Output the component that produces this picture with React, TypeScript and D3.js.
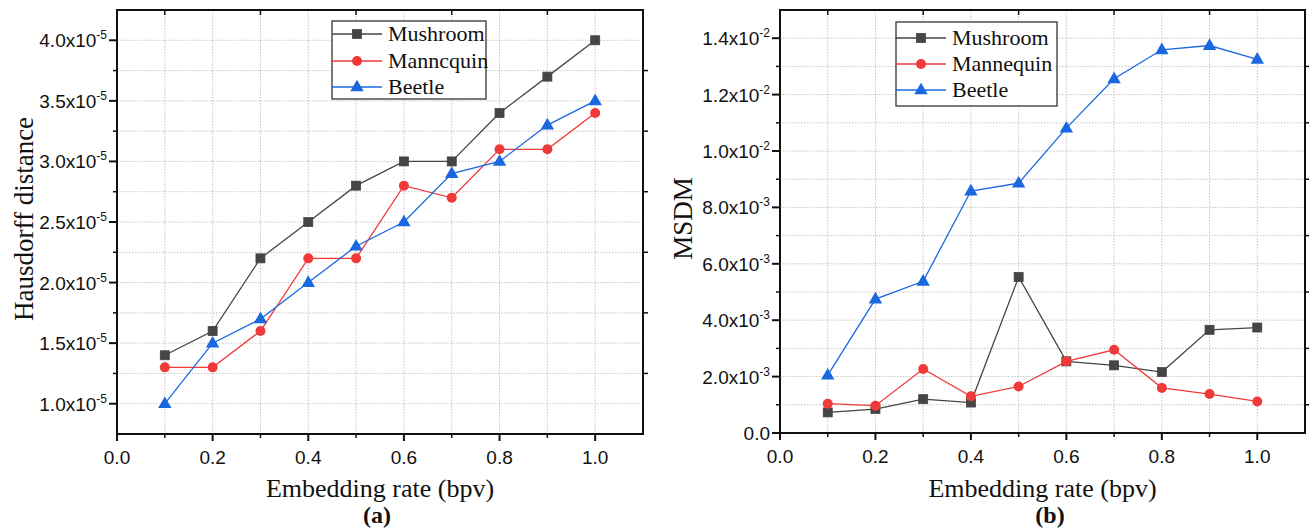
import React from "react";
import * as d3 from "d3";

const rates = [0.1, 0.2, 0.3, 0.4, 0.5, 0.6, 0.7, 0.8, 0.9, 1.0];
const xTicks = [0, 0.2, 0.4, 0.6, 0.8, 1.0];
const xTickLabels = ["0.0", "0.2", "0.4", "0.6", "0.8", "1.0"];

// Panel (a): Hausdorff distance
const hausMushroom = [1.4e-5, 1.6e-5, 2.2e-5, 2.5e-5, 2.8e-5, 3.0e-5, 3.0e-5, 3.4e-5, 3.7e-5, 4.0e-5];
const hausMannequin = [1.3e-5, 1.3e-5, 1.6e-5, 2.2e-5, 2.2e-5, 2.8e-5, 2.7e-5, 3.1e-5, 3.1e-5, 3.4e-5];
const hausBeetle = [1.0e-5, 1.5e-5, 1.7e-5, 2.0e-5, 2.3e-5, 2.5e-5, 2.9e-5, 3.0e-5, 3.3e-5, 3.5e-5];
const hausYTicks = [1.0e-5, 1.5e-5, 2.0e-5, 2.5e-5, 3.0e-5, 3.5e-5, 4.0e-5];
const hausYLabels = [["1.0x10", "-5"], ["1.5x10", "-5"], ["2.0x10", "-5"], ["2.5x10", "-5"], ["3.0x10", "-5"], ["3.5x10", "-5"], ["4.0x10", "-5"]];
const hausLegend = ["Mushroom", "Manncquin", "Beetle"];

// Panel (b): MSDM
const msdmMushroom = [0.73e-3, 0.85e-3, 1.2e-3, 1.08e-3, 5.53e-3, 2.54e-3, 2.4e-3, 2.16e-3, 3.66e-3, 3.74e-3];
const msdmMannequin = [1.04e-3, 0.97e-3, 2.27e-3, 1.3e-3, 1.65e-3, 2.54e-3, 2.95e-3, 1.6e-3, 1.38e-3, 1.12e-3];
const msdmBeetle = [2.05e-3, 4.75e-3, 5.38e-3, 8.58e-3, 8.86e-3, 10.81e-3, 12.56e-3, 13.59e-3, 13.74e-3, 13.25e-3];
const msdmYTicks = [0, 2e-3, 4e-3, 6e-3, 8e-3, 10e-3, 12e-3, 14e-3];
const msdmYLabels = [["0.0", ""], ["2.0x10", "-3"], ["4.0x10", "-3"], ["6.0x10", "-3"], ["8.0x10", "-3"], ["1.0x10", "-2"], ["1.2x10", "-2"], ["1.4x10", "-2"]];
const msdmLegend = ["Mushroom", "Mannequin", "Beetle"];

const COLORS = { mush: "#454545", manne: "#f03a3a", beetle: "#1a68e0" };
const SERIF = "'Liberation Serif', 'Times New Roman', serif";
const SANS = "'Liberation Sans', Arial, sans-serif";

type PanelProps = {
  box: { x0: number; x1: number; y0: number; y1: number };
  yDomain: [number, number];
  yTicks: number[];
  yLabels: string[][];
  yMinorStep: number;
  series: number[][];
  legend: string[];
  legendBox: { x: number; y: number; w: number; h: number; rowY: number[] };
  yTitle: string;
  yTitleX: number;
  panelLabel: string;
  panelLabelX: number;
};

function Marker({ kind, x, y, color }: { kind: number; x: number; y: number; color: string }) {
  if (kind === 0) {
    return <rect x={x - 4.5} y={y - 4.5} width={9} height={9} fill={color} stroke={color} strokeWidth={0.8} />;
  }
  if (kind === 1) {
    return <circle cx={x} cy={y} r={5} fill={color} />;
  }
  const p = d3.symbol().type(d3.symbolTriangle).size(78)();
  return <path d={p || ""} transform={`translate(${x},${y + 0.5})`} fill={color} />;
}

function Panel(props: PanelProps) {
  const { box, yDomain, yTicks, yLabels, yMinorStep, series, legend, legendBox } = props;
  const x = d3.scaleLinear().domain([0, 1.1]).range([box.x0, box.x1]);
  const y = d3.scaleLinear().domain(yDomain).range([box.y1, box.y0]);
  const colors = [COLORS.mush, COLORS.manne, COLORS.beetle];
  const line = d3
    .line<number>()
    .x((_, i) => x(rates[i]))
    .y((v) => y(v));

  const vGrid = d3.range(1, 11).map((i) => i / 10);
  const nMinor = Math.round((yDomain[1] - yDomain[0]) / yMinorStep);
  const hGrid: number[] = [];
  const firstMinor = Math.ceil(yDomain[0] / yMinorStep - 1e-9) * yMinorStep;
  for (let k = 0; k <= nMinor + 1; k++) {
    const v = firstMinor + k * yMinorStep;
    if (v > yDomain[0] + 1e-12 && v < yDomain[1] - 1e-12) hGrid.push(v);
  }
  const isMajorY = (v: number) => yTicks.some((t) => Math.abs(t - v) < yMinorStep * 0.01);
  const minorX = [0.1, 0.3, 0.5, 0.7, 0.9];

  return (
    <g>
      {vGrid.map((g, i) => (
        <line key={"vg" + i} x1={x(g)} x2={x(g)} y1={box.y0} y2={box.y1} stroke="#c4c4c4" strokeWidth={1} strokeDasharray="1.5 1.5" />
      ))}
      {hGrid.map((g, i) => (
        <line key={"hg" + i} x1={box.x0} x2={box.x1} y1={y(g)} y2={y(g)} stroke="#c4c4c4" strokeWidth={1} strokeDasharray="1.5 1.5" />
      ))}
      <rect x={box.x0} y={box.y0} width={box.x1 - box.x0} height={box.y1 - box.y0} fill="none" stroke="#111" strokeWidth={2} />
      {xTicks.map((t, i) => (
        <g key={"xt" + i}>
          <line x1={x(t)} x2={x(t)} y1={box.y1} y2={box.y1 + 7} stroke="#111" strokeWidth={2} />
          <text x={x(t)} y={box.y1 + 30} textAnchor="middle" fontFamily={SANS} fontSize="19px" fill="#111">
            {xTickLabels[i]}
          </text>
        </g>
      ))}
      {minorX.map((t, i) => (
        <g key={"xm" + i}>
          <line x1={x(t)} x2={x(t)} y1={box.y1} y2={box.y1 + 4} stroke="#111" strokeWidth={1.5} />
          <line x1={x(t)} x2={x(t)} y1={box.y0} y2={box.y0 + 5} stroke="#111" strokeWidth={1.5} />
        </g>
      ))}
      {hGrid.concat(yTicks.filter((t) => !hGrid.some((h) => Math.abs(h - t) < 1e-12))).map((t, i) => {
        const major = isMajorY(t);
        return (
          <line key={"yt" + i} x1={box.x0 - (major ? 8 : 4)} x2={box.x0} y1={y(t)} y2={y(t)} stroke="#111" strokeWidth={major ? 2 : 1.5} />
        );
      })}
      {hGrid
        .filter((t) => !isMajorY(t))
        .map((t, i) => (
          <line key={"yr" + i} x1={box.x1} x2={box.x1 + 5} y1={y(t)} y2={y(t)} stroke="#111" strokeWidth={1.5} />
        ))}
      {yTicks.map((t, i) => (
        <text key={"yl" + i} x={box.x0 - 10} y={y(t) + 7} textAnchor="end" fontFamily={SANS} fontSize="19px" fill="#111">
          {yLabels[i][0]}
          {yLabels[i][1] ? (
            <tspan fontSize="12px" dy={-8}>
              {yLabels[i][1]}
            </tspan>
          ) : null}
        </text>
      ))}
      {series.map((s, si) => (
        <g key={"s" + si}>
          <path d={line(s) || ""} fill="none" stroke={colors[si]} strokeWidth={1.3} />
          {s.map((v, i) => (
            <Marker key={i} kind={si} x={x(rates[i])} y={y(v)} color={colors[si]} />
          ))}
        </g>
      ))}
      <rect x={legendBox.x} y={legendBox.y} width={legendBox.w} height={legendBox.h} fill="#fff" stroke="#333" strokeWidth={1.3} />
      {legend.map((name, i) => (
        <g key={"lg" + i}>
          <line x1={legendBox.x} x2={legendBox.x + 50} y1={legendBox.rowY[i]} y2={legendBox.rowY[i]} stroke={colors[i]} strokeWidth={1.3} />
          <Marker kind={i} x={legendBox.x + 25} y={legendBox.rowY[i]} color={colors[i]} />
          <text x={legendBox.x + 56} y={legendBox.rowY[i] + 7} fontFamily={SERIF} fontSize="22px" fill="#111">
            {name}
          </text>
        </g>
      ))}
      <text x={(box.x0 + box.x1) / 2} y={497} textAnchor="middle" fontFamily={SERIF} fontSize="26px" fill="#111">
        Embedding rate (bpv)
      </text>
      <text x={props.panelLabelX} y={523} textAnchor="middle" fontFamily={SERIF} fontSize="24px" fontWeight="bold" fill="#111">
        {props.panelLabel}
      </text>
      <text
        transform={`translate(${props.yTitleX},${(box.y0 + box.y1) / 2 - 3}) rotate(-90)`}
        textAnchor="middle"
        fontFamily={SERIF}
        fontSize="27px"
        fill="#111"
      >
        {props.yTitle}
      </text>
    </g>
  );
}

export default function App() {
  return (
    <svg width={1309} height={530} style={{ position: "absolute", left: 0, top: 0, background: "#fff" }}>
      <rect width={1309} height={530} fill="#fff" />
      <Panel
        box={{ x0: 117, x1: 643, y0: 10, y1: 434 }}
        yDomain={[0.75e-5, 4.25e-5]}
        yTicks={hausYTicks}
        yLabels={hausYLabels}
        yMinorStep={0.25e-5}
        series={[hausMushroom, hausMannequin, hausBeetle]}
        legend={hausLegend}
        legendBox={{ x: 332, y: 21, w: 154, h: 78, rowY: [34, 61, 87] }}
        yTitle="Hausdorff distance"
        yTitleX={33}
        panelLabel="(a)"
        panelLabelX={377}
      />
      <Panel
        box={{ x0: 780, x1: 1305, y0: 10, y1: 433 }}
        yDomain={[0, 0.015]}
        yTicks={msdmYTicks}
        yLabels={msdmYLabels}
        yMinorStep={1e-3}
        series={[msdmMushroom, msdmMannequin, msdmBeetle]}
        legend={msdmLegend}
        legendBox={{ x: 896, y: 22, w: 161, h: 84, rowY: [38, 64, 90] }}
        yTitle="MSDM"
        yTitleX={692}
        panelLabel="(b)"
        panelLabelX={1050}
      />
    </svg>
  );
}
